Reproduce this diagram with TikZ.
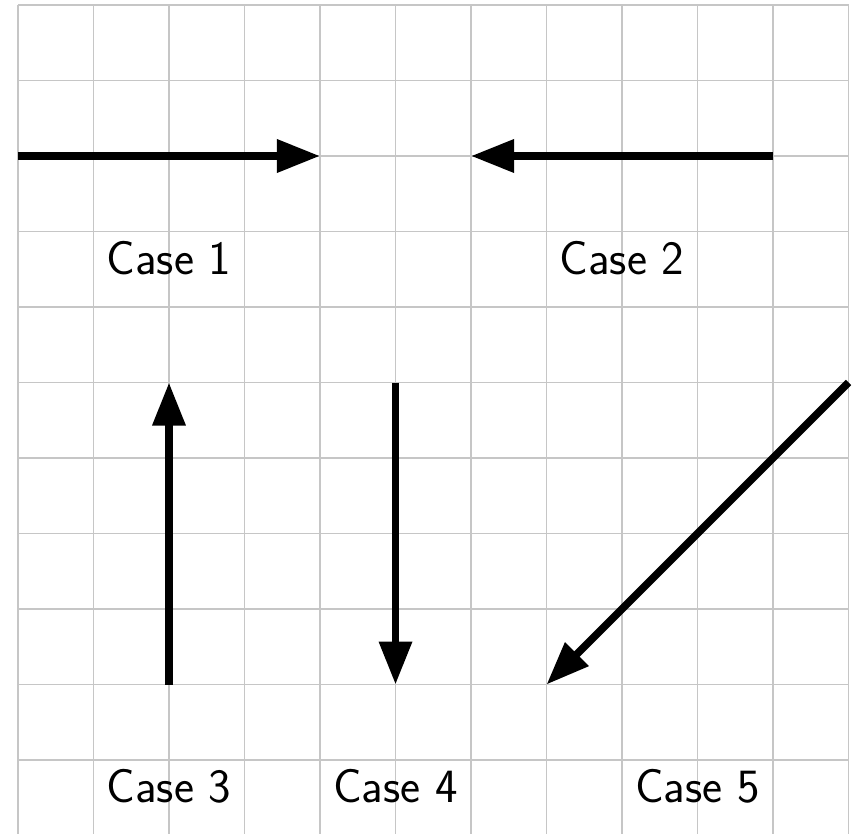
\documentclass[tikz,border=0pt]{standalone}
\usetikzlibrary{arrows.meta}

\tikzset{
    vec/.style = {line width = 1mm, -{Triangle[length = 5.7mm, width = 4.2mm]}},
    caselabel/.style = {below, font = \sffamily\fontsize{18}{22}\selectfont}
}

\begin{document}
\begin{tikzpicture}
    \useasboundingbox (-0.238, 0.033) rectangle (11.099, 11.066);
    \draw [gray!45, line width = 0.6pt] (0, 0) grid (11, 11);

    % horizontal
    \coordinate (a1) at (0, 9);
    \coordinate (b1) at (4, 9);
    \coordinate (a2) at (10, 9);
    \coordinate (b2) at (6, 9);
    \draw [vec] (a1) -- (b1);
    \draw [vec] (a2) -- (b2);
    \node [caselabel] (c1) at (2, 8) {Case 1};
    \node [caselabel] (c2) at (8, 8) {Case 2};

    %%%%%%%%%%%%%%%%%%%%
    \coordinate (a3) at (2, 2);
    \coordinate (b3) at (2, 6);
    \coordinate (a4) at (5, 6);
    \coordinate (b4) at (5, 2);
    \coordinate (a5) at (11, 6);
    \coordinate (b5) at (7, 2);
    \draw [vec] (a3) -- (b3);
    \draw [vec] (a4) -- (b4);
    \draw [vec] (a5) -- (b5);
    \node [caselabel] (c3) at (2, 1) {Case 3};
    \node [caselabel] (c4) at (5, 1) {Case 4};
    \node [caselabel] (c5) at (9, 1) {Case 5};
\end{tikzpicture}
\end{document}
